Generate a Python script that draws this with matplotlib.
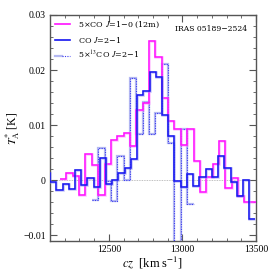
import numpy as np
import matplotlib
matplotlib.use('Agg')
import matplotlib.pyplot as plt
from matplotlib.ticker import MultipleLocator
from matplotlib.legend_handler import HandlerTuple
from matplotlib.lines import Line2D

plt.rcParams['font.family'] = ['Liberation Serif', 'DejaVu Serif']
plt.rcParams['mathtext.fontset'] = 'stix'

# ---- data ----
# CO J=1-0 (12m), scaled x5 : channel centre velocities [km/s] and T*_A [K]
v_co10 = [12190, 12233, 12276, 12319, 12362, 12406, 12449, 12492, 12535, 12578,
          12622, 12665, 12708, 12751, 12794, 12838, 12881, 12924, 12967, 13010,
          13054, 13097, 13140, 13183, 13226, 13270, 13313, 13356, 13399, 13442,
          13486]
t_co10 = [0.0003, 0.0014, 0.0008, -0.0026, 0.0047, 0.0027, -0.0027, 0.0030, 0.0074, 0.0081,
          0.0086, 0.0062, 0.0127, 0.0141, 0.0253, 0.0223, 0.0149, 0.0107, 0.0094, 0.0064,
          0.0094, 0.0036, -0.0021, 0.0007, 0.0030, 0.0072, -0.0013, 0.0005, -0.0028, -0.0040,
          -0.0040]

# CO J=2-1
v_co21 = [12079, 12121, 12164, 12206, 12248, 12290, 12333, 12375, 12417, 12460,
          12502, 12544, 12587, 12629, 12671, 12713, 12756, 12798, 12840, 12883,
          12925, 12967, 13010, 13052, 13094, 13136, 13179, 13221, 13263, 13306,
          13348, 13390, 13433, 13475]
t_co21 = [0.0014, -0.0003, -0.0018, -0.0007, -0.0015, 0.0019, -0.0008, 0.0005, -0.0012, 0.0041,
          -0.0007, 0.0000, 0.0014, 0.0023, 0.0038, 0.0154, 0.0163, 0.0196, 0.0188, 0.0118,
          0.0080, -0.0002, -0.0012, 0.0011, -0.0010, 0.0007, 0.0020, 0.0007, 0.0045, 0.0022,
          -0.0003, -0.0029, 0.0001, -0.0070]

# 13CO J=2-1, scaled x5
v_13co = [12406, 12449, 12492, 12535, 12578, 12622, 12665, 12708, 12751, 12794,
          12838, 12881, 12924, 12967, 13010, 13054]
t_13co = [-0.0036, 0.0058, -0.0002, -0.0037, 0.0045, 0.0000, 0.0185, 0.0085, 0.0142, 0.0084,
          0.0123, 0.0212, 0.0067, -0.0200, 0.0094, -0.0043]

labels = ['5×CO $J$=1−0 (12m)', 'CO $J$=2−1', '5×$^{13}$CO $J$=2−1']
source = 'IRAS 05189−2524'
yticks = [-0.01, 0.0, 0.01, 0.02, 0.03]
yticklabels = ['−0.01', '0', '0.01', '0.02', '0.03']
xticks = [12500, 13000, 13500]


def edges_of(c):
    c = np.asarray(c, float)
    mids = (c[:-1] + c[1:]) / 2
    return np.concatenate([[c[0] - (mids[0] - c[0])], mids, [c[-1] + (c[-1] - mids[-1])]])


MAG = '#ff10ff'
BLU = '#1414f0'
LBLU = '#b4b8f2'

fig = plt.figure(figsize=(2.7, 2.7), dpi=100)
ax = fig.add_axes([50 / 270, 29 / 270, 206 / 270, 226 / 270])

ax.axhline(0, color='#aaaaaa', lw=0.6, ls=(0, (1, 1)), zorder=1)

# 13CO: light band + dotted
ax.stairs(t_13co, edges_of(v_13co), baseline=None, color=LBLU, lw=1.6, zorder=2)
ax.stairs(t_13co, edges_of(v_13co), baseline=None, color='#3c3cf0', lw=0.8,
          ls=(0, (1, 1.2)), zorder=3)
# CO 1-0
ax.stairs(t_co10, edges_of(v_co10), baseline=None, color='#ff9cff', lw=1.8, alpha=0.6, zorder=3)
ax.stairs(t_co10, edges_of(v_co10), baseline=None, color=MAG, lw=1.1, zorder=4)
# CO 2-1
ax.stairs(t_co21, edges_of(v_co21), baseline=None, color='#8c8cf4', lw=1.8, alpha=0.5, zorder=4)
ax.stairs(t_co21, edges_of(v_co21), baseline=None, color=BLU, lw=1.1, zorder=5)

ax.set_xlim(12100, 13500)
ax.set_ylim(-0.011, 0.03)
ax.set_xticks(xticks)
ax.set_xticklabels([str(x) for x in xticks])
ax.set_yticks(yticks)
ax.set_yticklabels(yticklabels)
ax.xaxis.set_minor_locator(MultipleLocator(100))
ax.yaxis.set_minor_locator(MultipleLocator(0.002))
ax.tick_params(which='both', direction='in', top=True, right=True, color='#555555',
               labelsize=7, pad=3)
ax.tick_params(which='major', length=5, width=0.8)
ax.tick_params(which='minor', length=2.5, width=0.6)
for s in ax.spines.values():
    s.set_color('#555555')
    s.set_linewidth(1.0)

ax.set_xlabel('$cz$  [km s$^{-1}$]', fontsize=9, labelpad=0)
ax.set_ylabel('$T_{\\rm A}^{*}$ [K]', fontsize=8.5, labelpad=1)

h1 = Line2D([], [], color=MAG, lw=1.2)
h2 = Line2D([], [], color=BLU, lw=1.2)
h3a = Line2D([], [], color=LBLU, lw=1.6)
h3b = Line2D([], [], color='#3c3cf0', lw=0.8, ls=(0, (1, 1.2)))
leg = ax.legend([h1, h2, (h3a, h3b)], labels, loc='upper left', frameon=False,
                prop={'family': ['DejaVu Serif'], 'size': 5.8},
                handlelength=1.9, handletextpad=1.0, labelspacing=0.55,
                borderaxespad=0.3, borderpad=0.3,
                handler_map={tuple: HandlerTuple(ndivide=None, pad=0)})

ax.text(0.955, 0.955, source, transform=ax.transAxes, ha='right', va='top',
        fontsize=5.5, family=['DejaVu Serif'])

fig.savefig('out.png', dpi=100)
